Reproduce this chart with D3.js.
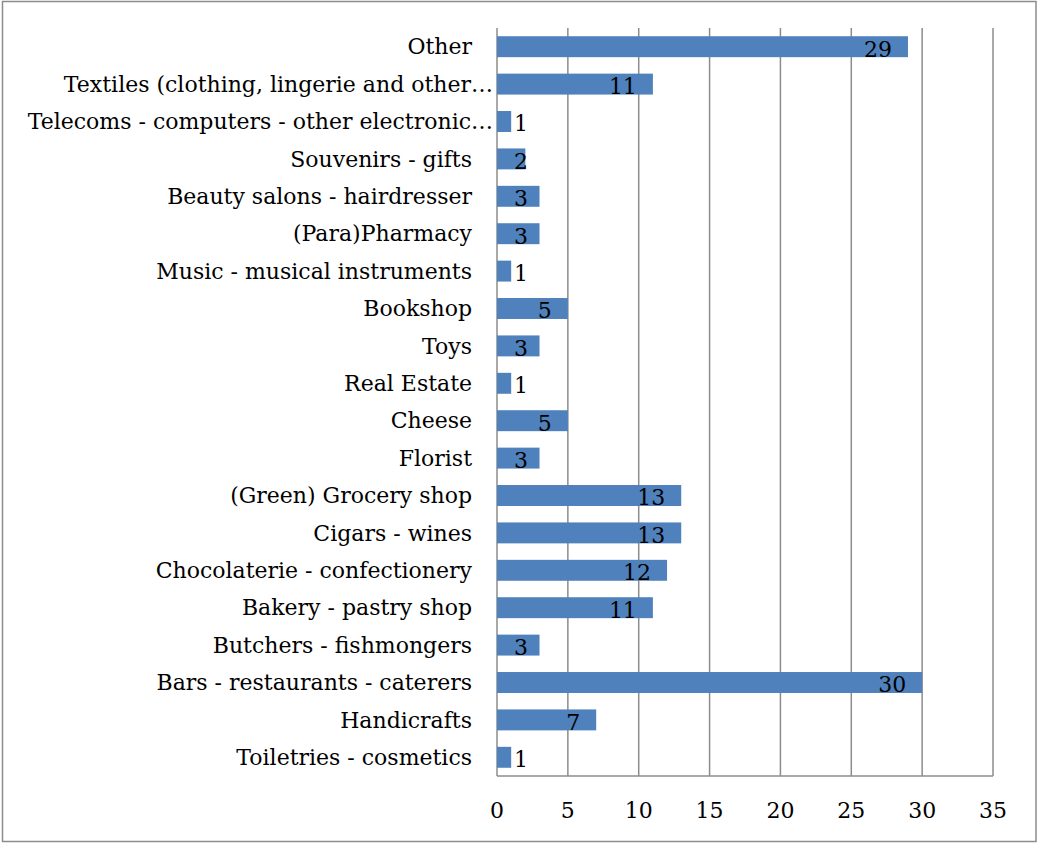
<!DOCTYPE html>
<html>
<head>
<meta charset="utf-8">
<script src="https://cdn.jsdelivr.net/npm/d3@7"></script>
<style>
  body { margin: 0; background: #fff; }
  svg text { font-family: "DejaVu Serif", serif; fill: #000; }
</style>
</head>
<body>
<svg id="chart"></svg>
<script>
// categories top to bottom, as shown
const categories = [
    'Other',
    'Textiles (clothing, lingerie and other\u2026',
    'Telecoms - computers - other electronic\u2026',
    'Souvenirs - gifts',
    'Beauty salons - hairdresser',
    '(Para)Pharmacy',
    'Music - musical instruments',
    'Bookshop',
    'Toys',
    'Real Estate',
    'Cheese',
    'Florist',
    '(Green) Grocery shop',
    'Cigars - wines',
    'Chocolaterie - confectionery',
    'Bakery - pastry shop',
    'Butchers - fishmongers',
    'Bars - restaurants - caterers',
    'Handicrafts',
    'Toiletries - cosmetics'
];
const counts = [29, 11, 1, 2, 3, 3, 1, 5, 3, 1, 5, 3, 13, 13, 12, 11, 3, 30, 7, 1];
const xTicks = [0, 5, 10, 15, 20, 25, 30, 35];

const W = 1037, H = 843;
const margin = { top: 28, left: 497, right: 44, bottom: 67 };
const fontSize = 22;

const svg = d3.select('#chart').attr('width', W).attr('height', H);

// outer frame
svg.append('rect')
    .attr('x', 2.5).attr('y', 1.5)
    .attr('width', W - 3.5).attr('height', H - 3)
    .attr('fill', 'none')
    .attr('stroke', '#8c8c8c')
    .attr('stroke-width', 1.5);

const data = categories.map((c, i) => ({ name: c, value: counts[i] }));

const x = d3.scaleLinear().domain([0, 35]).range([margin.left, W - margin.right]);
const y = d3.scaleBand().domain(categories)
    .range([margin.top, H - margin.bottom])
    .paddingInner(0.44).paddingOuter(0.22);

const g = svg.append('g');

// vertical gridlines
g.selectAll('.grid')
    .data(xTicks)
    .enter()
    .append('line')
    .attr('x1', d => x(d)).attr('x2', d => x(d))
    .attr('y1', margin.top).attr('y2', H - margin.bottom)
    .attr('stroke', '#8c8c8c')
    .attr('stroke-width', 1.5);

// bottom axis line
g.append('line')
    .attr('x1', x(0)).attr('x2', x(35))
    .attr('y1', H - margin.bottom).attr('y2', H - margin.bottom)
    .attr('stroke', '#8c8c8c')
    .attr('stroke-width', 1.5);

// bars
g.selectAll('.bar')
    .data(data)
    .enter()
    .append('rect')
    .attr('class', 'bar')
    .attr('x', x(0))
    .attr('y', d => y(d.name))
    .attr('width', d => x(d.value) - x(0))
    .attr('height', y.bandwidth())
    .attr('fill', '#4f81bd');

// category labels (truncated ones sit closer to the axis)
g.selectAll('.cat')
    .data(data)
    .enter()
    .append('text')
    .attr('class', 'cat')
    .attr('x', d => d.name.endsWith('\u2026') ? x(0) - 4 : x(0) - 25)
    .attr('y', d => y(d.name) + y.bandwidth() / 2)
    .attr('dy', '0.35em')
    .attr('text-anchor', 'end')
    .attr('font-size', fontSize)
    .text(d => d.name);

// value labels near the bar end, kept clear of the axis for small bars
g.selectAll('.val')
    .data(data)
    .enter()
    .append('text')
    .attr('class', 'val')
    .attr('y', d => y(d.name) + y.bandwidth() / 2)
    .attr('dy', '0.45em')
    .attr('font-size', fontSize)
    .text(d => d.value)
    .attr('x', function(d) {
        const w = this.getComputedTextLength();
        return Math.max(x(d.value) - 16 - w, x(0) + 17);
    });

// x tick labels
g.selectAll('.tick-label')
    .data(xTicks)
    .enter()
    .append('text')
    .attr('class', 'tick-label')
    .attr('x', d => x(d))
    .attr('y', H - margin.bottom + 34)
    .attr('dy', '0.35em')
    .attr('text-anchor', 'middle')
    .attr('font-size', fontSize)
    .text(d => d);
</script>
</body>
</html>
